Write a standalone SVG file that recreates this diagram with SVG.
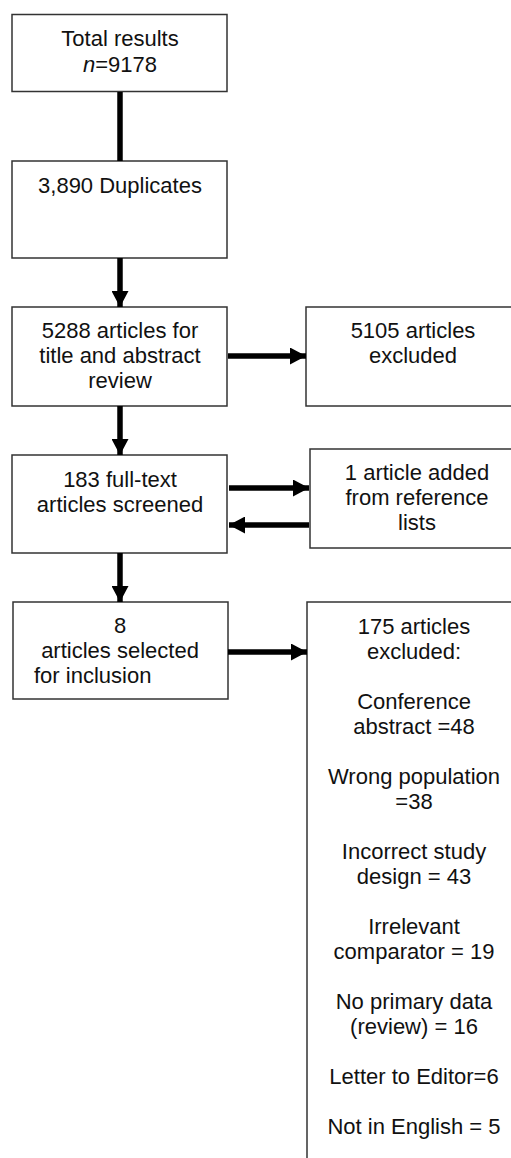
<svg xmlns="http://www.w3.org/2000/svg" width="511" height="1158" viewBox="0 0 511 1158">
<style>
.box{fill:#fff;stroke:#333;stroke-width:1.5}
text{font-family:"Liberation Sans",Arial,sans-serif;font-size:22px;fill:#111;text-anchor:middle}
text.l{text-anchor:start}
.c{stroke:#000;stroke-width:5.5;fill:none}
</style>
<defs>
<marker id="ah" viewBox="0 0 16 17" refX="16" refY="8.5" markerWidth="16" markerHeight="17" markerUnits="userSpaceOnUse" orient="auto">
<path d="M0,0 L16,8.5 L0,17 Z" fill="#000"/>
</marker>
</defs>
<rect width="511" height="1158" fill="#fff"/>
<g id="n1"><rect class="box" x="12" y="14.5" width="215" height="77"/>
<text x="120" y="46">Total results</text>
<text x="120" y="72"><tspan font-style="italic">n</tspan>=9178</text></g>
<g id="n2"><rect class="box" x="12" y="161" width="215" height="97"/>
<text x="120" y="193">3,890 Duplicates</text></g>
<g id="n3"><rect class="box" x="12" y="307" width="215" height="99"/>
<text x="120" y="338">5288 articles for</text>
<text x="120" y="363">title and abstract</text>
<text x="120" y="388">review</text></g>
<g id="n4"><rect class="box" x="306" y="307" width="216" height="99"/>
<text x="413" y="338">5105 articles</text>
<text x="413" y="363">excluded</text></g>
<g id="n5"><rect class="box" x="12" y="455" width="215" height="98"/>
<text x="120" y="487">183 full-text</text>
<text x="120" y="512">articles screened</text></g>
<g id="n6"><rect class="box" x="310" y="449" width="215" height="99"/>
<text x="417" y="480">1 article added</text>
<text x="417" y="505">from reference</text>
<text x="417" y="530">lists</text></g>
<g id="n7"><rect class="box" x="13" y="602" width="215" height="97"/>
<text x="120" y="633">8</text>
<text x="120" y="658">articles selected</text>
<text class="l" x="34" y="683">for inclusion</text></g>
<g id="n8"><rect class="box" x="307" y="602" width="215" height="570"/>
<text x="414" y="634">175 articles</text>
<text x="414" y="659">excluded:</text>
<text x="414" y="709">Conference</text>
<text x="414" y="734">abstract =48</text>
<text x="414" y="784">Wrong population</text>
<text x="414" y="809">=38</text>
<text x="414" y="859">Incorrect study</text>
<text x="414" y="884">design = 43</text>
<text x="414" y="934">Irrelevant</text>
<text x="414" y="959">comparator = 19</text>
<text x="414" y="1009">No primary data</text>
<text x="414" y="1034">(review) = 16</text>
<text x="414" y="1084">Letter to Editor=6</text>
<text x="414" y="1134">Not in English = 5</text></g>
<g id="connectors">
<line class="c" x1="120" y1="92" x2="120" y2="161"/>
<line class="c" x1="120" y1="258" x2="120" y2="307" marker-end="url(#ah)"/>
<line class="c" x1="228" y1="356" x2="306" y2="356" marker-end="url(#ah)"/>
<line class="c" x1="120" y1="406" x2="120" y2="455" marker-end="url(#ah)"/>
<line class="c" x1="229" y1="488" x2="309" y2="488" marker-end="url(#ah)"/>
<line class="c" x1="309" y1="525" x2="229" y2="525" marker-end="url(#ah)"/>
<line class="c" x1="120" y1="553" x2="120" y2="602" marker-end="url(#ah)"/>
<line class="c" x1="228" y1="652" x2="307" y2="652" marker-end="url(#ah)"/>
</g>
</svg>
